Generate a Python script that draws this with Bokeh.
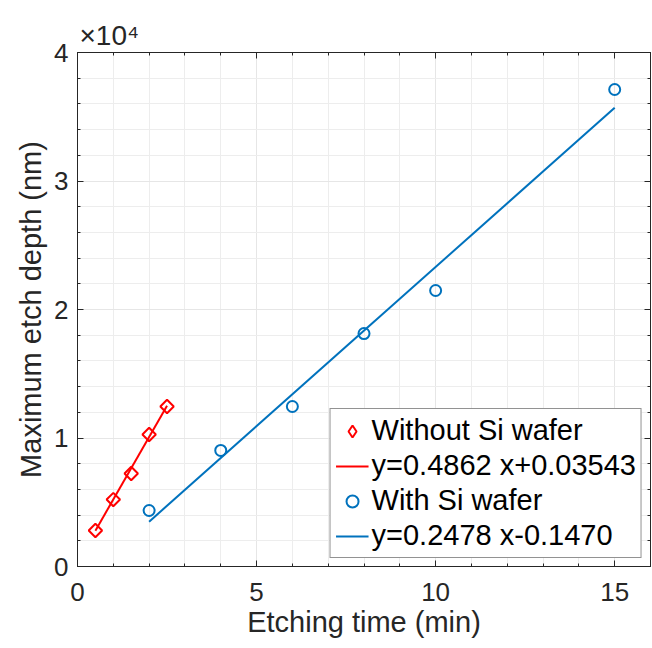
import math
from bokeh.plotting import figure
from bokeh.models import FixedTicker, LinearAxis, Legend, LegendItem, Range1d, Title
from bokeh.embed import file_html
from bokeh.resources import INLINE

# ---- data ----
t_without = [0.5, 1.0, 1.5, 2.0, 2.5]
d_without = [2800, 5210, 7240, 10270, 12450]
t_with = [2, 4, 6, 8, 10, 15]
d_with = [4360, 9030, 12450, 18130, 21480, 37120]
fit_without_x = [0.5, 2.5]
fit_without_y = [2790, 12510]
fit_with_x = [2, 15]
fit_with_y = [3490, 35700]
x_major = [0, 5, 10, 15]
x_minor = list(range(0, 17))
y_major = [0, 10000, 20000, 30000, 40000]
y_minor = list(range(0, 40001, 2000))
y_labels = {0: "0", 10000: "1", 20000: "2", 30000: "3", 40000: "4"}
legend_labels = ["Without Si wafer", "y=0.4862 x+0.03543", "With Si wafer", "y=0.2478 x-0.1470"]
exponent_text = "×10⁴"

RED = "#FF0000"
BLUE = "#0072BD"
AX = "#262626"
FONT = "Liberation Sans"

p = figure(width=651, height=648, output_backend="svg", toolbar_location=None,
           x_range=Range1d(0, 16), y_range=Range1d(0, 40000),
           min_border_left=77, min_border_right=1, min_border_top=52, min_border_bottom=82)
p.background_fill_color = "white"
p.border_fill_color = "white"
p.outline_line_color = AX
p.outline_line_width = 1
# off-frame range used only to feed the legend's diamond sample
p.extra_y_ranges = {"legend_only": Range1d(1e9, 2e9)}

# axes styling
for ax in (p.xaxis[0], p.yaxis[0]):
    ax.axis_line_color = AX
    ax.major_tick_line_color = AX
    ax.minor_tick_line_color = AX
    ax.major_tick_in = 6
    ax.major_tick_out = 0
    ax.minor_tick_in = 3
    ax.minor_tick_out = 0
    ax.major_label_text_font = FONT
    ax.major_label_text_font_size = "26px"
    ax.major_label_text_color = AX
    ax.axis_label_text_font = FONT
    ax.axis_label_text_font_size = "29px"
    ax.axis_label_text_font_style = "normal"
    ax.axis_label_text_color = AX

p.xaxis[0].ticker = FixedTicker(ticks=x_major, minor_ticks=x_minor)
p.yaxis[0].ticker = FixedTicker(ticks=y_major, minor_ticks=y_minor)
p.yaxis[0].major_label_overrides = y_labels
p.xaxis[0].axis_label = "Etching time (min)"
p.yaxis[0].axis_label = "Maximum etch depth (nm)"
p.xaxis[0].major_label_standoff = 16
p.yaxis[0].major_label_standoff = 9
p.xaxis[0].axis_label_standoff = 2
p.yaxis[0].axis_label_standoff = 4

# mirrored axes (ticks only, no labels)
top = LinearAxis(ticker=FixedTicker(ticks=x_major, minor_ticks=x_minor))
right = LinearAxis(ticker=FixedTicker(ticks=y_major, minor_ticks=y_minor))
top.major_label_overrides = {t: "" for t in x_major}
right.major_label_overrides = {t: "" for t in y_major}
for ax in (top, right):
    ax.axis_line_color = AX
    ax.major_tick_line_color = AX
    ax.minor_tick_line_color = AX
    ax.major_tick_in = 6
    ax.major_tick_out = 0
    ax.minor_tick_in = 3
    ax.minor_tick_out = 0
    ax.major_label_text_font_size = "1px"
    ax.major_label_standoff = 0
    ax.axis_label = None
p.add_layout(top, "above")
p.add_layout(right, "right")

# grids
for g in (p.xgrid[0], p.ygrid[0]):
    g.grid_line_color = "#E6E6E6"
    g.grid_line_width = 1
    g.minor_grid_line_color = "#EDEDED"
    g.minor_grid_line_width = 1
p.xgrid[0].ticker = FixedTicker(ticks=x_major, minor_ticks=x_minor)
p.ygrid[0].ticker = FixedTicker(ticks=y_major, minor_ticks=y_minor)

# data
r1 = p.scatter(t_without, d_without, marker="square", angle=math.pi / 4, size=9.5,
               fill_color=None, line_color=RED, line_width=2)
r2 = p.line(fit_without_x, fit_without_y, line_color=RED, line_width=2)
r3 = p.scatter(t_with, d_with, marker="circle", size=11,
               fill_color=None, line_color=BLUE, line_width=2)
r4 = p.line(fit_with_x, fit_with_y, line_color=BLUE, line_width=2)
# legend sample for the diamond (legend does not rotate markers); drawn off-frame
r1_leg = p.scatter(t_without, d_without, marker="diamond", size=14, fill_color=None,
                   line_color=RED, line_width=2, y_range_name="legend_only")

legend = Legend(items=[LegendItem(label=legend_labels[0], renderers=[r1_leg]),
                       LegendItem(label=legend_labels[1], renderers=[r2]),
                       LegendItem(label=legend_labels[2], renderers=[r3]),
                       LegendItem(label=legend_labels[3], renderers=[r4])],
                location="bottom_right")
legend.label_text_font = FONT
legend.label_text_font_size = "29px"
legend.label_text_color = "#000000"
legend.glyph_width = 33
legend.glyph_height = 30
legend.label_standoff = 3
legend.padding = 5
legend.spacing = 2
legend.margin = 8
legend.border_line_color = AX
legend.border_line_width = 1
legend.background_fill_color = "white"
legend.background_fill_alpha = 1
p.add_layout(legend)

# exponent text above the frame
t = Title(text=exponent_text, align="left", offset=2, standoff=3, text_font=FONT,
          text_font_size="28px", text_font_style="normal", text_color=AX)
p.add_layout(t, "above")

open("out.html", "w").write(file_html(p, INLINE))
